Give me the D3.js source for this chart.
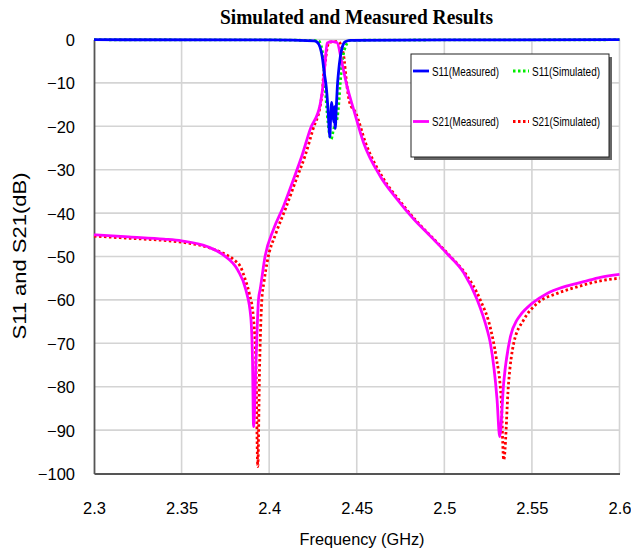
<!DOCTYPE html>
<html>
<head>
<meta charset="utf-8">
<script src="https://cdn.jsdelivr.net/npm/d3@7/dist/d3.min.js"></script>
<style>
  html, body { margin: 0; padding: 0; background: #fff; }
  svg { display: block; }
</style>
</head>
<body>
<svg id="chart" width="631" height="552"></svg>
<script>
// Axis ticks
const xTicks = [2.3, 2.35, 2.4, 2.45, 2.5, 2.55, 2.6];
const yTicks = [0, -10, -20, -30, -40, -50, -60, -70, -80, -90, -100];

// S21 measured (GHz, dB)
const s21MeasFreq = [2.300, 2.320, 2.340, 2.350, 2.3646, 2.374, 2.382, 2.3867, 2.3895, 2.3905, 2.3911, 2.3925, 2.3939, 2.3949, 2.3977, 2.4025, 2.4082, 2.4139, 2.4187, 2.4234, 2.4291, 2.4309, 2.432, 2.4331, 2.436, 2.4387, 2.4415, 2.4444, 2.4482, 2.4539, 2.4634, 2.4730, 2.4825, 2.4920, 2.5015, 2.5110, 2.5187, 2.5244, 2.5263, 2.5301, 2.5316, 2.5339, 2.5377, 2.5415, 2.5434, 2.5501, 2.5587, 2.5682, 2.5796, 2.5891, 2.600];
const s21MeasDb   = [-45.0, -45.5, -46.0, -46.4, -47.7, -49.7, -53.1, -57.7, -63.9, -74.0, -89.2, -74.0, -60.0, -57.5, -49.9, -43.7, -38.4, -32.2, -26.8, -20.7, -15.0, -10.0, -5.0, -0.8, -0.5, -0.7, -5.3, -10.7, -16.1, -23.8, -31.5, -36.8, -41.4, -45.3, -49.3, -53.7, -59.9, -66.8, -70.0, -83.0, -91.5, -79.0, -68.5, -64.6, -63.5, -60.8, -58.5, -57.0, -55.8, -54.8, -54.1];

// S21 simulated (GHz, dB)
const s21SimFreq = [2.300, 2.320, 2.340, 2.350, 2.365, 2.375, 2.380, 2.3838, 2.3865, 2.3886, 2.3910, 2.3925, 2.3935, 2.3945, 2.3958, 2.3970, 2.3990, 2.4040, 2.4095, 2.4155, 2.4205, 2.4250, 2.4295, 2.4304, 2.4310, 2.4320, 2.4330, 2.4345, 2.4395, 2.4424, 2.4444, 2.4460, 2.4493, 2.4552, 2.4648, 2.4745, 2.4840, 2.4935, 2.5030, 2.5125, 2.5205, 2.5265, 2.5295, 2.5325, 2.5339, 2.5367, 2.5396, 2.5453, 2.5530, 2.5644, 2.5758, 2.5891, 2.600];
const s21SimDb   = [-45.3, -45.8, -46.3, -46.7, -47.9, -49.5, -50.8, -52.5, -55.5, -58.4, -64.0, -76.0, -98.4, -76.0, -60.0, -56.0, -51.0, -44.5, -38.8, -32.2, -26.8, -20.7, -14.5, -11.9, -8.4, -5.3, -2.2, -0.6, -0.5, -3.4, -10.7, -14.6, -16.8, -24.0, -31.8, -37.2, -41.8, -45.8, -49.8, -54.2, -60.0, -66.8, -73.0, -83.0, -96.9, -79.0, -70.0, -64.6, -60.8, -58.5, -57.0, -55.6, -55.0];

// S11 measured (GHz, dB)
const s11MeasFreq = [2.300, 2.400, 2.4257, 2.4274, 2.4291, 2.4303, 2.4314, 2.4326, 2.4334, 2.4340, 2.4346, 2.4351, 2.4357, 2.4363, 2.4369, 2.4373, 2.4377, 2.4383, 2.4389, 2.4396, 2.4406, 2.4417, 2.4434, 2.4463, 2.500, 2.600];
const s11MeasDb   = [-0.05, -0.1, -0.3, -0.6, -1.8, -4.0, -7.5, -11.0, -15.0, -19.0, -22.5, -18.0, -14.5, -17.0, -19.0, -15.5, -20.5, -16.0, -11.0, -7.5, -4.0, -1.8, -0.5, -0.2, -0.1, -0.05];

// S11 simulated (GHz, dB)
const s11SimFreq = [2.300, 2.400, 2.4280, 2.4297, 2.4309, 2.4320, 2.4331, 2.4343, 2.4354, 2.4366, 2.4377, 2.4389, 2.4397, 2.4406, 2.4417, 2.4429, 2.4446, 2.4463, 2.500, 2.600];
const s11SimDb   = [-0.05, -0.1, -0.3, -1.5, -4.5, -11.0, -17.0, -21.5, -23.0, -21.0, -19.5, -18.0, -15.0, -10.0, -5.0, -2.5, -0.8, -0.2, -0.1, -0.05];

const svg = d3.select("#chart");
const margin = { left: 94, right: 11.5, top: 39.5, bottom: 78.5 };
const W = 631, H = 552;

const x = d3.scaleLinear().domain([2.3, 2.6]).range([margin.left, W - margin.right]);
const y = d3.scaleLinear().domain([-100, 0]).range([H - margin.bottom, margin.top]);

// Title
svg.append("text")
  .attr("x", 356.5).attr("y", 24)
  .attr("text-anchor", "middle")
  .attr("font-family", "'Liberation Serif', 'Times New Roman', serif")
  .attr("font-weight", "bold")
  .attr("font-size", 20)
  .attr("textLength", 273).attr("lengthAdjust", "spacingAndGlyphs")
  .attr("fill", "#000")
  .text("Simulated and Measured Results");

// Grid
const grid = svg.append("g");
grid.selectAll("line.vx").data(xTicks.slice(1)).join("line")
  .attr("x1", d => x(d)).attr("x2", d => x(d))
  .attr("y1", y(0)).attr("y2", y(-100))
  .attr("stroke", "#d4d4d4").attr("stroke-width", 1.6);
grid.selectAll("line.hy").data(yTicks.slice(0, -1)).join("line")
  .attr("x1", x(2.3)).attr("x2", x(2.6))
  .attr("y1", d => y(d)).attr("y2", d => y(d))
  .attr("stroke", "#d4d4d4").attr("stroke-width", 1.6);

// Axes
const xAxis = d3.axisBottom(x).tickValues(xTicks).tickSize(0).tickPadding(0)
  .tickFormat(d3.format("~g"));
const gx = svg.append("g").attr("transform", `translate(0,${y(-100)})`).call(xAxis);
gx.select(".domain").attr("stroke", "#555").attr("stroke-width", 1.8);
gx.selectAll("text")
  .attr("y", 0).attr("dy", 0)
  .attr("transform", "translate(0,40)")
  .attr("font-family", "'Liberation Sans', Arial, sans-serif")
  .attr("font-size", 16.5).attr("fill", "#000");

const yAxis = d3.axisLeft(y).tickValues(yTicks).tickSize(0).tickPadding(0)
  .tickFormat(d3.format("d"));
const gy = svg.append("g").attr("transform", `translate(${x(2.3)},0)`).call(yAxis);
gy.select(".domain").attr("stroke", "#555").attr("stroke-width", 1.8);
gy.selectAll("text")
  .attr("x", -19).attr("dy", "0.36em")
  .attr("font-family", "'Liberation Sans', Arial, sans-serif")
  .attr("font-size", 16.5).attr("fill", "#000");

// Axis titles
svg.append("text")
  .attr("x", 362).attr("y", 545)
  .attr("text-anchor", "middle")
  .attr("font-family", "'Liberation Sans', Arial, sans-serif")
  .attr("font-size", 17)
  .attr("textLength", 125).attr("lengthAdjust", "spacingAndGlyphs")
  .text("Frequency (GHz)");

svg.append("text")
  .attr("transform", "translate(26,256) rotate(-90)")
  .attr("text-anchor", "middle")
  .attr("font-family", "'Liberation Sans', Arial, sans-serif")
  .attr("font-size", 18)
  .attr("textLength", 167).attr("lengthAdjust", "spacingAndGlyphs")
  .text("S11 and S21(dB)");

// Curves
svg.append("clipPath").attr("id", "plot-clip")
  .append("rect")
  .attr("x", x(2.3) - 2).attr("y", y(0) - 3)
  .attr("width", x(2.6) - x(2.3) + 4).attr("height", y(-100) - y(0) + 4);

const line = d3.line().x(d => x(d[0])).y(d => y(d[1])).curve(d3.curveMonotoneX);
const zip = (f, v) => f.map((d, i) => [d, v[i]]);

const series = [
  { name: "S21(Simulated)", data: zip(s21SimFreq, s21SimDb), color: "#ff0000", dash: "2.5,2.5" },
  { name: "S11(Simulated)", data: zip(s11SimFreq, s11SimDb), color: "#00ee00", dash: "2.5,2.5" },
  { name: "S21(Measured)",  data: zip(s21MeasFreq, s21MeasDb), color: "#ff00ff", dash: null },
  { name: "S11(Measured)",  data: zip(s11MeasFreq, s11MeasDb), color: "#0000ff", dash: null }
];

const plot = svg.append("g").attr("clip-path", "url(#plot-clip)");
series.forEach(s => {
  plot.append("path")
    .datum(s.data)
    .attr("d", line)
    .attr("fill", "none")
    .attr("stroke", s.color)
    .attr("stroke-width", 2.8)
    .attr("stroke-dasharray", s.dash)
    .attr("stroke-linejoin", "round");
});

// Legend
const lg = svg.append("g").attr("transform", "translate(411,54)");
lg.append("rect").attr("x", 3).attr("y", 3).attr("width", 198).attr("height", 103).attr("fill", "#666");
lg.append("rect").attr("x", 0).attr("y", 0).attr("width", 198).attr("height", 103)
  .attr("fill", "#fff").attr("stroke", "#222").attr("stroke-width", 1);

const legendItems = [
  { label: "S11(Measured)",  color: "#0000ff", dash: null,      cx: 2,   cy: 17 },
  { label: "S11(Simulated)", color: "#00ee00", dash: "2.5,2.5", cx: 102, cy: 17 },
  { label: "S21(Measured)",  color: "#ff00ff", dash: null,      cx: 2,   cy: 67.5 },
  { label: "S21(Simulated)", color: "#ff0000", dash: "2.5,2.5", cx: 102, cy: 67.5 }
];
legendItems.forEach(it => {
  lg.append("line")
    .attr("x1", it.cx).attr("x2", it.cx + 16)
    .attr("y1", it.cy).attr("y2", it.cy)
    .attr("stroke", it.color).attr("stroke-width", 2.8)
    .attr("stroke-dasharray", it.dash);
  lg.append("text")
    .attr("x", it.cx + 19).attr("y", it.cy + 4.5)
    .attr("font-family", "'Liberation Sans', Arial, sans-serif")
    .attr("font-size", 13)
    .attr("textLength", it.label.length > 13 ? 68 : 67).attr("lengthAdjust", "spacingAndGlyphs")
    .attr("fill", "#000")
    .text(it.label);
});
</script>
</body>
</html>
